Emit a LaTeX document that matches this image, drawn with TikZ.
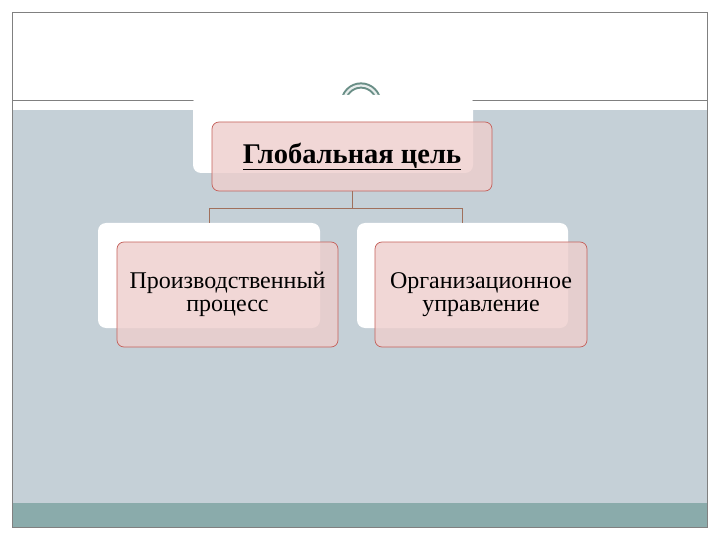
\documentclass[tikz,border=0pt]{standalone}
\usepackage{fontspec}
\setmainfont{Liberation Serif}
\definecolor{pagebg}{RGB}{197,208,215}
\definecolor{bandcol}{RGB}{138,171,171}
\definecolor{framecol}{RGB}{128,128,128}
\definecolor{arccol}{RGB}{105,142,134}
\definecolor{boxfill}{RGB}{238,206,204}
\definecolor{boxedge}{RGB}{196,96,90}
\definecolor{linkcol}{RGB}{160,112,92}
\begin{document}
\begin{tikzpicture}[x=1pt,y=-1pt,
		box/.style={draw=boxedge,fill=boxfill,fill opacity=0.8,text opacity=1,rounded corners=7pt,line width=0.7pt,align=center,inner sep=0pt,font=\fontsize{24}{23}\selectfont},
		shadowbox/.style={fill=white,rounded corners=8pt,inner sep=0pt},
		link/.style={draw=linkcol,line width=0.8pt}]
		\useasboundingbox (0,0) rectangle (720,540);
		%\clip (0,0) rectangle (720,540);
		\fill [pagebg] (12,110) rectangle (707,503);
		\fill [bandcol] (12,503) rectangle (707,527);
		\draw [framecol,line width=0.8] (12,12) rectangle (707,527);
		\draw [framecol,line width=0.8] (12,100) -- (337,100);
		\draw [framecol,line width=0.8] (384,100) -- (707,100);
		\draw [arccol,line width=2,double=white!85!arccol,double distance=2.2pt] (378.5,103) arc [start angle=0,end angle=-180,radius=17.5];
		\node [shadowbox,minimum width=280,minimum height=78] (shT) at (333,134) {};
		\node [shadowbox,minimum width=222,minimum height=105] (shL) at (209,275.5) {};
		\node [shadowbox,minimum width=211,minimum height=105] (shR) at (462.5,275.5) {};
		\node [box,minimum width=280,minimum height=69,font=\fontsize{28.5}{30}\selectfont\bfseries] (goal) at (352,156.5) {\underline{Глобальная цель}};
		\draw [link] (goal.south) -- ++(0,17) coordinate (fork) -| (shL.north);
		\draw [link] (fork) -| (shR.north);
		\node [box,minimum width=221,minimum height=105] (prod) at (227.5,294.5) {\strut Производственный\\процесс};
		\node [box,minimum width=212,minimum height=105] (org) at (481,294.5) {\strut Организационное\\управление};
	\end{tikzpicture}
\end{document}
